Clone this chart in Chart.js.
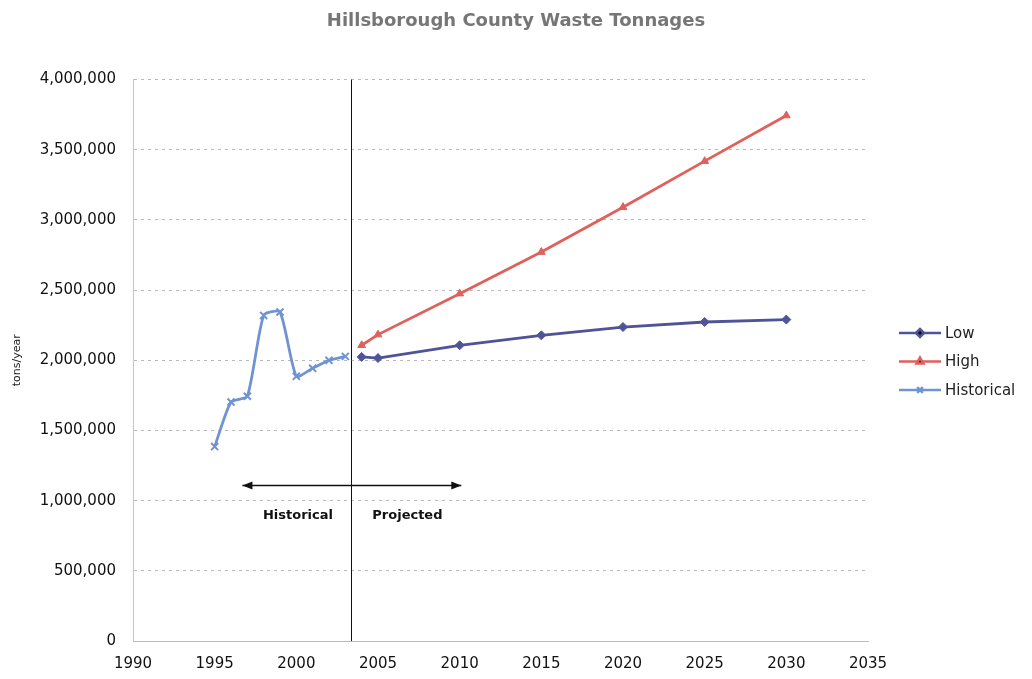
<!DOCTYPE html>
<html>
<head>
<meta charset="utf-8">
<script src="https://cdn.jsdelivr.net/npm/chart.js@4/dist/chart.umd.min.js"></script>
<style>
  body{margin:0;background:#fff;}
  #wrap{width:1032px;height:679px;}
</style>
</head>
<body>
<div id="wrap"><canvas id="chart" width="1032" height="679"></canvas></div>
<script>
// values
const histYears = [1995, 1996, 1997, 1998, 1999, 2000, 2001, 2002, 2003];
const histValues = [1385000, 1703000, 1744000, 2320000, 2344000, 1886000, 1943000, 2000000, 2028000];
const projYears = [2004, 2005, 2010, 2015, 2020, 2025, 2030];
const lowValues = [2024000, 2016000, 2107000, 2178000, 2237000, 2273000, 2290000];
const highValues = [2107000, 2183000, 2475000, 2771000, 3091000, 3419000, 3744000];
const seriesNames = ["Low", "High", "Historical"];
const dividerYear = 2003.33;
const arrowFrom = 1996.7, arrowTo = 2010.1, arrowLevel = 1110000;
const noteLabels = [{text: "Historical", x: 2000.1, y: 895000}, {text: "Projected", x: 2006.8, y: 895000}];

const colors = ["#4f5398", "#e0605c", "#7093d4"];
const markers = ["rectRot", "triangle", "crossRot"];
const FONT = "'DejaVu Sans', Verdana, sans-serif";

function pts(xs, ys){
  return xs.map((x, i) => ({x: x, y: ys[i]}));
}

const extras = {
  id: "extras",
  afterDatasetsDraw(chart){
    const ctx = chart.ctx;
    const xs = chart.scales.x, ys = chart.scales.y;
    const a = chart.chartArea;
    ctx.save();
    // divider between history and projection
    ctx.strokeStyle = "#111";
    ctx.lineWidth = 1;
    const dx = Math.round(xs.getPixelForValue(dividerYear)) + 0.5;
    ctx.beginPath();
    ctx.moveTo(dx, a.top);
    ctx.lineTo(dx, a.bottom);
    ctx.stroke();
    // double arrow
    const x1 = xs.getPixelForValue(arrowFrom), x2 = xs.getPixelForValue(arrowTo);
    const y = Math.round(ys.getPixelForValue(arrowLevel)) + 0.5;
    ctx.lineWidth = 1.5;
    ctx.beginPath();
    ctx.moveTo(x1, y);
    ctx.lineTo(x2, y);
    ctx.stroke();
    ctx.fillStyle = "#111";
    ctx.beginPath();
    ctx.moveTo(x1, y); ctx.lineTo(x1 + 10, y - 4); ctx.lineTo(x1 + 10, y + 4); ctx.closePath();
    ctx.fill();
    ctx.beginPath();
    ctx.moveTo(x2, y); ctx.lineTo(x2 - 10, y - 4); ctx.lineTo(x2 - 10, y + 4); ctx.closePath();
    ctx.fill();
    ctx.font = "bold 13px " + FONT;
    ctx.textAlign = "center";
    ctx.textBaseline = "middle";
    noteLabels.forEach(n => {
      ctx.fillText(n.text, xs.getPixelForValue(n.x), ys.getPixelForValue(n.y));
    });
    // legend
    const lx = 899, ly0 = 333, gap = 28.5;
    chart.data.datasets.forEach((ds, i) => {
      const yy = ly0 + i * gap;
      ctx.strokeStyle = ds.borderColor;
      ctx.lineWidth = 2.5;
      ctx.beginPath();
      ctx.moveTo(lx, yy);
      ctx.lineTo(lx + 42, yy);
      ctx.stroke();
      Chart.helpers.drawPoint(ctx, {
        pointStyle: ds.pointStyle, radius: 4, borderWidth: 1.5, rotation: 0
      }, lx + 21, yy);
      ctx.fillStyle = "#222";
      ctx.font = "15px " + FONT;
      ctx.textAlign = "left";
      ctx.fillText(ds.label, lx + 46, yy + 1);
    });
    ctx.restore();
  }
};

function makeSet(i, data){
  return {
    label: seriesNames[i],
    data: data,
    borderColor: colors[i],
    backgroundColor: colors[i],
    pointStyle: markers[i],
    pointRadius: i === 2 ? 5 : 4.5,
    pointBorderWidth: i === 2 ? 2 : 1,
    borderWidth: 2.8,
    tension: i === 2 ? 0.2 : 0
  };
}

new Chart(document.getElementById("chart"), {
  type: "line",
  data: {
    datasets: [
      makeSet(0, pts(projYears, lowValues)),
      makeSet(1, pts(projYears, highValues)),
      makeSet(2, pts(histYears, histValues))
    ]
  },
  options: {
    responsive: false,
    animation: false,
    layout: {padding: 0},
    plugins: {
      legend: {display: false},
      tooltip: {enabled: false},
      title: {
        display: true,
        text: "Hillsborough County Waste Tonnages",
        color: "#767676",
        font: {size: 18, weight: "bold", family: FONT},
        padding: {top: 11, bottom: 47}
      }
    },
    scales: {
      x: {
        type: "linear",
        min: 1990,
        max: 2035,
        afterFit(s){ s.height = 38; },
        ticks: {
          stepSize: 5,
          color: "#111",
          padding: 6,
          font: {size: 15, family: FONT},
          callback: v => String(v)
        },
        grid: {display: false},
        border: {display: true, color: "#bbb", dash: [3, 4]}
      },
      y: {
        min: 0,
        max: 4000000,
        afterFit(s){ s.width = 133; },
        ticks: {
          stepSize: 500000,
          color: "#111",
          padding: 17,
          font: {size: 15, family: FONT},
          callback: v => v.toLocaleString("en-US")
        },
        title: {
          display: true,
          text: "tons/year",
          color: "#222",
          font: {size: 11, family: FONT},
          padding: {top: 11, bottom: 0}
        },
        grid: {color: "#b8b8b8", tickLength: 0},
        border: {display: true, color: "#c4c4c4", dash: [3, 4]}
      },
      pad: {
        position: "right",
        display: true,
        afterFit(s){ s.width = 164; },
        ticks: {display: false},
        grid: {display: false},
        border: {display: false}
      }
    }
  },
  plugins: [extras]
});
</script>
</body>
</html>
